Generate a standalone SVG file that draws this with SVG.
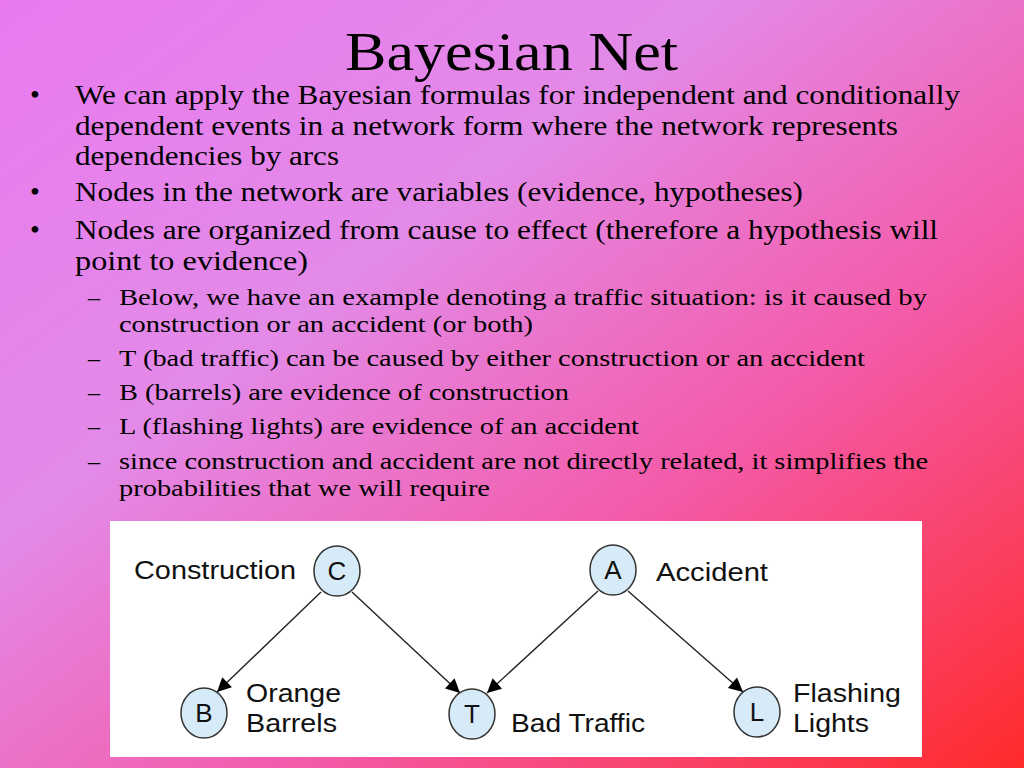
<svg xmlns="http://www.w3.org/2000/svg" width="1024" height="768" viewBox="0 0 1024 768">
<defs>
<linearGradient id="bg" x1="0" y1="0" x2="1" y2="1">
<stop offset="0" stop-color="#e97af0"/>
<stop offset="0.35" stop-color="#e38ae8"/>
<stop offset="0.65" stop-color="#f45aa8"/>
<stop offset="1" stop-color="#ff2a2a"/>
</linearGradient>
<marker id="ah2" viewBox="0 0 10 10" refX="10" refY="5" markerWidth="18" markerHeight="14" orient="auto" markerUnits="userSpaceOnUse"><path d="M0,0 L10,5 L0,10 z" fill="#000"/></marker>
</defs>
<style>
.t{font-family:"Liberation Serif","Times New Roman",serif;fill:#000}
.b{font-size:28px}
.s{font-size:24px}
.n ellipse{fill:#d6ebf7;stroke:#333;stroke-width:1.5}
.n text,.lab{font-family:"Liberation Sans",Arial,sans-serif;font-size:26px;fill:#111}
.n text{text-anchor:middle}
#edges line{stroke:#222;stroke-width:1.4;marker-end:url(#ah2)}
</style>
<rect width="1024" height="768" fill="url(#bg)"/>
<text class="t" x="345" y="70" font-size="54" textLength="333" lengthAdjust="spacingAndGlyphs">Bayesian Net</text>
<g class="t b">
<text x="30" y="104">•</text><text x="75" y="104" textLength="885" lengthAdjust="spacingAndGlyphs">We can apply the Bayesian formulas for independent and conditionally</text>
<text x="75" y="135" textLength="823" lengthAdjust="spacingAndGlyphs">dependent events in a network form where the network represents</text>
<text x="75" y="165" textLength="264" lengthAdjust="spacingAndGlyphs">dependencies by arcs</text>
<text x="30" y="201">•</text><text x="75" y="201" textLength="728" lengthAdjust="spacingAndGlyphs">Nodes in the network are variables (evidence, hypotheses)</text>
<text x="30" y="239">•</text><text x="75" y="239" textLength="863" lengthAdjust="spacingAndGlyphs">Nodes are organized from cause to effect (therefore a hypothesis will</text>
<text x="75" y="270" textLength="233" lengthAdjust="spacingAndGlyphs">point to evidence)</text>
</g>
<g class="t s">
<text x="88" y="305">–</text><text x="119" y="305" textLength="808" lengthAdjust="spacingAndGlyphs">Below, we have an example denoting a traffic situation:  is it caused by</text>
<text x="119" y="332" textLength="414" lengthAdjust="spacingAndGlyphs">construction or an accident (or both)</text>
<text x="88" y="366">–</text><text x="119" y="366" textLength="746" lengthAdjust="spacingAndGlyphs">T (bad traffic) can be caused by either construction or an accident</text>
<text x="88" y="400">–</text><text x="119" y="400" textLength="450" lengthAdjust="spacingAndGlyphs">B (barrels) are evidence of construction</text>
<text x="88" y="434">–</text><text x="119" y="434" textLength="520" lengthAdjust="spacingAndGlyphs">L (flashing lights) are evidence of an accident</text>
<text x="88" y="469">–</text><text x="119" y="469" textLength="809" lengthAdjust="spacingAndGlyphs">since construction and accident are not directly related, it simplifies the</text>
<text x="119" y="496" textLength="371" lengthAdjust="spacingAndGlyphs">probabilities that we will require</text>
</g>
<rect x="110" y="521" width="812" height="236" fill="#fff"/>
<g id="edges">
<line x1="321" y1="592" x2="217" y2="692"/>
<line x1="352" y1="592" x2="460" y2="693"/>
<line x1="598" y1="591" x2="487" y2="693"/>
<line x1="628" y1="591" x2="743" y2="692"/>
</g>
<g id="C" class="n"><ellipse cx="337" cy="571" rx="23" ry="25"/><text x="337" y="580">C</text></g>
<g id="A" class="n"><ellipse cx="613" cy="570" rx="23" ry="25"/><text x="613" y="579">A</text></g>
<g id="B" class="n"><ellipse cx="204" cy="713" rx="23" ry="25"/><text x="204" y="722">B</text></g>
<g id="T" class="n"><ellipse cx="472" cy="714" rx="23" ry="25"/><text x="472" y="723">T</text></g>
<g id="L" class="n"><ellipse cx="757" cy="712" rx="23" ry="25"/><text x="757" y="721">L</text></g>
<text class="lab" x="134" y="579" textLength="162" lengthAdjust="spacingAndGlyphs">Construction</text>
<text class="lab" x="656" y="581" textLength="112" lengthAdjust="spacingAndGlyphs">Accident</text>
<text class="lab" x="246" y="702" textLength="95" lengthAdjust="spacingAndGlyphs">Orange</text>
<text class="lab" x="246" y="732" textLength="91" lengthAdjust="spacingAndGlyphs">Barrels</text>
<text class="lab" x="511" y="732" textLength="134" lengthAdjust="spacingAndGlyphs">Bad Traffic</text>
<text class="lab" x="793" y="702" textLength="108" lengthAdjust="spacingAndGlyphs">Flashing</text>
<text class="lab" x="793" y="732" textLength="76" lengthAdjust="spacingAndGlyphs">Lights</text>
</svg>
